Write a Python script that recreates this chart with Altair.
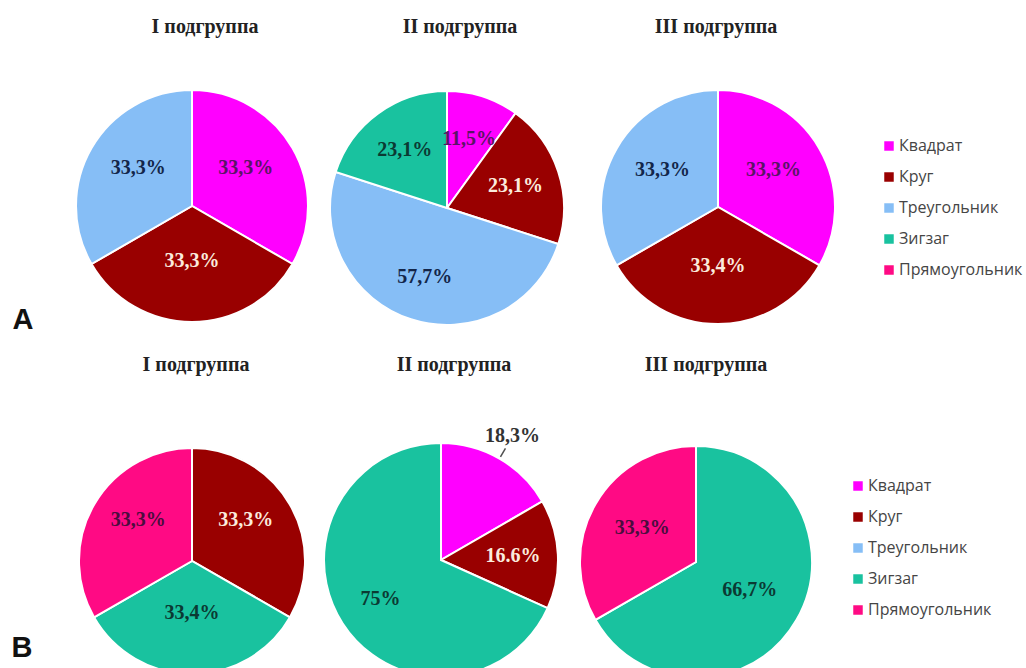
import altair as alt
import pandas as pd

# ---- data -------------------------------------------------------------
CATEGORIES = ["Квадрат", "Круг", "Треугольник", "Зигзаг", "Прямоугольник"]
SUBGROUPS = ["I подгруппа", "II подгруппа", "III подгруппа"]
PANELS = ["A", "B"]

A_I_CATS = ["Квадрат", "Круг", "Треугольник"]
A_I_VALS = [33.3, 33.3, 33.3]
A_I_TEXT = ["33,3%", "33,3%", "33,3%"]

A_II_CATS = ["Квадрат", "Круг", "Треугольник", "Зигзаг"]
A_II_VALS = [11.5, 23.1, 57.7, 23.1]
A_II_TEXT = ["11,5%", "23,1%", "57,7%", "23,1%"]

A_III_CATS = ["Квадрат", "Круг", "Треугольник"]
A_III_VALS = [33.3, 33.4, 33.3]
A_III_TEXT = ["33,3%", "33,4%", "33,3%"]

B_I_CATS = ["Круг", "Зигзаг", "Прямоугольник"]
B_I_VALS = [33.3, 33.4, 33.3]
B_I_TEXT = ["33,3%", "33,4%", "33,3%"]

B_II_CATS = ["Квадрат", "Круг", "Зигзаг"]
B_II_VALS = [18.3, 16.6, 75]
B_II_TEXT = ["18,3%", "16.6%", "75%"]

B_III_CATS = ["Зигзаг", "Прямоугольник"]
B_III_VALS = [66.7, 33.3]
B_III_TEXT = ["66,7%", "33,3%"]

SERIES = {
    ("A", "I подгруппа"): (A_I_CATS, A_I_VALS, A_I_TEXT),
    ("A", "II подгруппа"): (A_II_CATS, A_II_VALS, A_II_TEXT),
    ("A", "III подгруппа"): (A_III_CATS, A_III_VALS, A_III_TEXT),
    ("B", "I подгруппа"): (B_I_CATS, B_I_VALS, B_I_TEXT),
    ("B", "II подгруппа"): (B_II_CATS, B_II_VALS, B_II_TEXT),
    ("B", "III подгруппа"): (B_III_CATS, B_III_VALS, B_III_TEXT),
}

rows = []
for (panel, sub), (cats, vals, texts) in SERIES.items():
    for c, v, t in zip(cats, vals, texts):
        rows.append({"panel": panel, "subgroup": sub, "category": c,
                     "idx": CATEGORIES.index(c), "value": v, "label": t})
df = pd.DataFrame(rows)

# ---- styling ----------------------------------------------------------
ARC_COLORS = ["#FF00FF", "#990000", "#86BEF6", "#19C29F", "#FF0A84"]
LABEL_COLORS = ["#5A1466", "#FBEBDD", "#13264A", "#0B3A33", "#4B0D3E"]
SERIF = "Liberation Serif"
SANS = "Open Sans"

# pie layout: centre x, centre y, radius, label radius, label y-shift
LAYOUT = {
    ("A", "I подгруппа"): (192, 206, 116, 62, -7),
    ("A", "II подгруппа"): (447, 208, 117, 72, 0),
    ("A", "III подгруппа"): (718, 207, 117, 64, -5),
    ("B", "I подгруппа"): (192, 561, 113, 62, -10),
    ("B", "II подгруппа"): (441, 560, 117, 72, 0),
    ("B", "III подгруппа"): (696, 562, 116, 62, -3),
}
TITLE_POS = {
    ("A", "I подгруппа"): (205, 27), ("A", "II подгруппа"): (460, 27),
    ("A", "III подгруппа"): (716, 27),
    ("B", "I подгруппа"): (196, 365), ("B", "II подгруппа"): (454, 365),
    ("B", "III подгруппа"): (706, 365),
}
LETTER_POS = {"A": (23, 320), "B": (22, 648)}
LEGEND_POS = {"A": (881, 138), "B": (850, 478)}
# slice labels drawn outside the pie with a leader line
OUTSIDE = {("B", "II подгруппа"): "Квадрат"}

color_scale = alt.Scale(domain=CATEGORIES, range=ARC_COLORS)
fill_scale = alt.Scale(domain=CATEGORIES, range=LABEL_COLORS)


def make_legend(panel):
    lx, ly = LEGEND_POS[panel]
    return alt.Legend(title=None, orient="none", legendX=lx, legendY=ly,
                      symbolType="square", symbolSize=90, symbolStrokeWidth=0,
                      labelFont=SANS, labelFontSize=16, labelColor="#454545",
                      rowPadding=15, labelOffset=2, padding=0)


def pie(panel, sub):
    cx, cy, r, lr, ldy = LAYOUT[(panel, sub)]
    base = alt.Chart(df).transform_filter(
        (alt.datum.panel == panel) & (alt.datum.subgroup == sub))
    theta = alt.Theta("value:Q", stack="normalize")
    order = alt.Order("idx:Q")
    arcs = base.mark_arc(outerRadius=r, stroke="white", strokeWidth=2).encode(
        theta=theta,
        color=alt.Color("category:N", scale=color_scale, legend=make_legend(panel)),
        order=order, x=alt.value(cx), y=alt.value(cy))

    outside_cat = OUTSIDE.get((panel, sub), "")
    inner = base.mark_text(radius=lr, dy=ldy, font=SERIF, fontSize=20,
                           fontWeight="bold").encode(
        theta=theta, order=order,
        text="label:N",
        fill=alt.Fill("category:N", scale=fill_scale, legend=None),
        opacity=alt.condition(alt.datum.category == outside_cat,
                              alt.value(0), alt.value(1)),
        x=alt.value(cx), y=alt.value(cy))
    layers = [arcs, inner]

    if outside_cat:
        geo = (base.transform_joinaggregate(total="sum(value)")
               .transform_window(cum="sum(value)", sort=[alt.SortField("idx")],
                                 frame=[None, 0])
               .transform_calculate(ang="2*PI*(datum.cum - datum.value/2)/datum.total")
               .transform_filter(alt.datum.category == outside_cat)
               .transform_calculate(
                   x1=f"{cx} + {r + 2}*sin(datum.ang)", y1=f"{cy} - {r + 2}*cos(datum.ang)",
                   x2=f"{cx} + {r + 12}*sin(datum.ang)", y2=f"{cy} - {r + 12}*cos(datum.ang)",
                   tx=f"{cx} + {r + 26}*sin(datum.ang)", ty=f"{cy} - {r + 26}*cos(datum.ang)"))
        leader = geo.mark_rule(color="#505050", strokeWidth=1.5).encode(
            x=alt.X("x1:Q", scale=None, axis=None), y=alt.Y("y1:Q", scale=None, axis=None),
            x2="x2:Q", y2="y2:Q")
        outer = geo.mark_text(font=SERIF, fontSize=20, fontWeight="bold",
                              color="#333333").encode(
            x=alt.X("tx:Q", scale=None, axis=None), y=alt.Y("ty:Q", scale=None, axis=None),
            text="label:N")
        layers += [leader, outer]

    tx, ty = TITLE_POS[(panel, sub)]
    title = alt.Chart(pd.DataFrame({"t": [sub]})).mark_text(
        font=SERIF, fontSize=20, fontWeight="bold", color="#222222",
        baseline="middle").encode(text="t:N", x=alt.value(tx), y=alt.value(ty))
    layers.append(title)
    return alt.layer(*layers)


def panel_row(panel):
    lx, ly = LETTER_POS[panel]
    letter = alt.Chart(pd.DataFrame({"t": [panel]})).mark_text(
        font="Liberation Sans", fontSize=29, fontWeight="bold", color="#111111",
        baseline="middle").encode(text="t:N", x=alt.value(lx), y=alt.value(ly))
    return alt.layer(*[pie(panel, s) for s in SUBGROUPS], letter)


chart = (
    alt.layer(*[panel_row(p) for p in PANELS])
    .resolve_scale(color="independent")
    .properties(width=1026, height=668, padding=0, background="white",
                autosize=alt.AutoSizeParams(type="none"))
    .configure_view(stroke=None)
)

chart.save("out.html", embed_options={"renderer": "svg", "actions": False})
